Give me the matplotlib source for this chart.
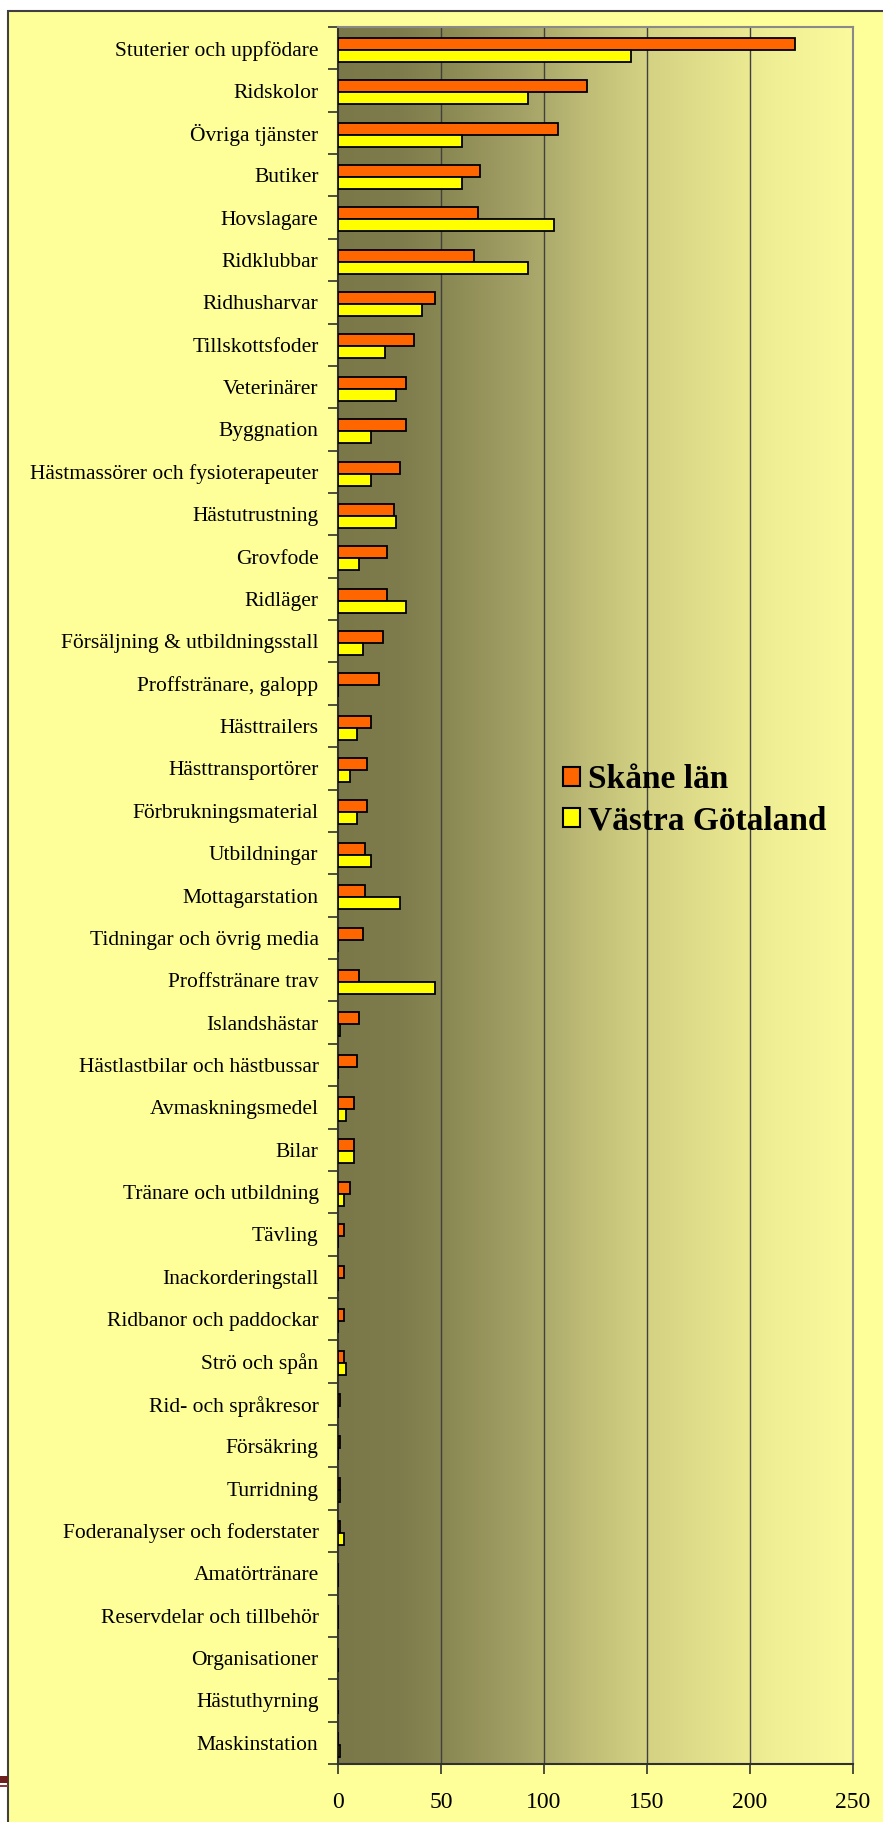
import numpy as np
import matplotlib

matplotlib.use("Agg")
import matplotlib.pyplot as plt
from matplotlib.colors import LinearSegmentedColormap
from matplotlib.patches import Patch, Rectangle

plt.rcParams["font.family"] = ["Liberation Serif", "DejaVu Serif"]

categories = [
    "Stuterier och uppfödare", "Ridskolor", "Övriga tjänster", "Butiker",
    "Hovslagare", "Ridklubbar", "Ridhusharvar", "Tillskottsfoder",
    "Veterinärer", "Byggnation", "Hästmassörer och fysioterapeuter",
    "Hästutrustning", "Grovfode", "Ridläger",
    "Försäljning & utbildningsstall", "Proffstränare, galopp",
    "Hästtrailers", "Hästtransportörer", "Förbrukningsmaterial",
    "Utbildningar", "Mottagarstation", "Tidningar och övrig media",
    "Proffstränare trav", "Islandshästar", "Hästlastbilar och hästbussar",
    "Avmaskningsmedel", "Bilar", "Tränare och utbildning", "Tävling",
    "Inackorderingstall", "Ridbanor och paddockar", "Strö och spån",
    "Rid- och språkresor", "Försäkring", "Turridning",
    "Foderanalyser och foderstater", "Amatörtränare",
    "Reservdelar och tillbehör", "Organisationer", "Hästuthyrning",
    "Maskinstation",
]
skane = [222, 121, 107, 69, 68, 66, 47, 37, 33, 33, 30, 27, 24, 24, 22, 20,
         16, 14, 14, 13, 13, 12, 10, 10, 9, 8, 8, 6, 3, 3, 3, 3, 1, 1, 1, 1,
         0, 0, 0, 0, 0]
vastra = [142, 92, 60, 60, 105, 92, 41, 23, 28, 16, 16, 28, 10, 33, 12, 0,
          9, 6, 9, 16, 30, 0, 47, 1, 0, 4, 8, 3, 0, 0, 0, 4, 0, 0, 1, 3,
          0, 0, 0, 0, 1]
series_names = ["Skåne län", "Västra Götaland"]
x_ticks = [0, 50, 100, 150, 200, 250]

W, H = 883, 1822
fig = plt.figure(figsize=(W / 100, H / 100), dpi=100, facecolor="white")

# outer chart frame (runs off the right and bottom edge)
fig.patches.append(Rectangle((8 / W, -0.05), 1.1, 1 - 11 / H + 0.05,
                             transform=fig.transFigure, facecolor="#FFFF99",
                             edgecolor="#404040", lw=1.5, zorder=-2))
# slide decoration at bottom left
fig.patches.append(Rectangle((0, 1 - 1783 / H), 8 / W, 7 / H,
                             transform=fig.transFigure, facecolor="#6B1F1F",
                             edgecolor="none", zorder=-1))
fig.patches.append(Rectangle((0, 1 - 1787 / H), 8 / W, 2 / H,
                             transform=fig.transFigure, facecolor="#8B3A3A",
                             edgecolor="none", zorder=-1))

left, right, top, bottom = 338, 853, 27, 1764
ax = fig.add_axes([left / W, 1 - bottom / H, (right - left) / W, (bottom - top) / H])
ax.set_facecolor("none")
ax.set_zorder(1)

n = len(categories)
y = np.arange(n)
xmax = 250

grad = LinearSegmentedColormap.from_list("bg", [
    (0.0, "#7A7848"), (0.12, "#7E7C4C"), (0.2, "#898752"), (0.35, "#A2A065"),
    (0.5, "#C2C078"), (0.6, "#D4D283"), (0.75, "#E5E38D"), (0.85, "#F1EF95"),
    (1.0, "#FBFA9C"),
])
ax.imshow(np.linspace(0, 1, 256)[None, :], cmap=grad, aspect="auto",
          extent=[0, xmax, n - 0.5, -0.5], zorder=0)

for xv in x_ticks[1:-1]:
    ax.axvline(xv, color="#404040", lw=1.0, zorder=1)

h = 0.284
shift = 0.04  # the group sits a touch below the category centre
ax.barh(y + shift - h / 2, skane, height=h, color="#FF6600", edgecolor="black",
        lw=1.3, zorder=3, label=series_names[0])
ax.barh(y + shift + h / 2, vastra, height=h, color="#FFFF00", edgecolor="black",
        lw=1.3, zorder=3, label=series_names[1])

ax.set_xlim(0, xmax)
ax.set_ylim(n - 0.5, -0.5)

ax.set_yticks(y)
ax.set_yticklabels(categories, fontsize=15.5)
ax.set_yticks(np.arange(n + 1) - 0.5, minor=True)
ax.tick_params(axis="y", which="major", length=0, pad=14)
ax.tick_params(axis="y", which="minor", length=7, width=1.2, color="#303030")
ax.set_xticks(x_ticks)
ax.set_xticklabels([str(v) for v in x_ticks], fontsize=17)
ax.tick_params(axis="x", length=7, width=1.2, color="#303030", pad=13)

for side in ("left", "bottom"):
    ax.spines[side].set_color("#303030")
    ax.spines[side].set_linewidth(1.5)
for side in ("top", "right"):
    ax.spines[side].set_color("#8A8A8A")
    ax.spines[side].set_linewidth(1.5)

handles = [Patch(facecolor="#FF6600", edgecolor="black", lw=1.5),
           Patch(facecolor="#FFFF00", edgecolor="black", lw=1.5)]
leg = fig.legend(handles, series_names, loc="upper left",
                 bbox_to_anchor=(563 / W, 1 - 764 / H), frameon=False,
                 prop={"weight": "bold", "size": 24}, handlelength=0.5,
                 handleheight=0.5, handletextpad=0.25, labelspacing=0.3,
                 borderpad=0, borderaxespad=0)
leg.set_zorder(5)

fig.savefig("out.png", dpi=100, facecolor="white")
